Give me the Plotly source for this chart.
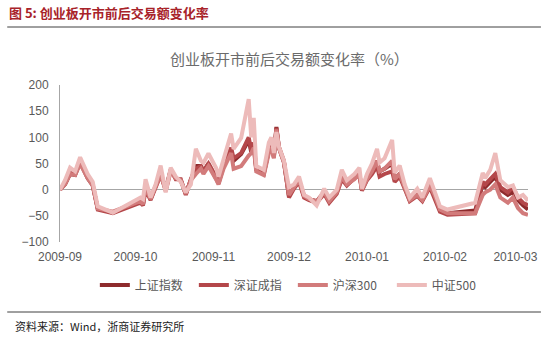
import plotly.graph_objects as go

# Trading-day turnover change rates (%) around the ChiNext launch
dates = [
    "2009-09-01", "2009-09-03", "2009-09-05", "2009-09-07", "2009-09-09",
    "2009-09-12", "2009-09-14", "2009-09-16", "2009-09-22", "2009-10-03",
    "2009-10-04", "2009-10-05", "2009-10-07", "2009-10-09", "2009-10-11",
    "2009-10-13", "2009-10-15", "2009-10-17", "2009-10-19", "2009-10-21",
    "2009-10-23", "2009-10-25", "2009-10-27", "2009-10-28", "2009-10-30",
    "2009-11-02", "2009-11-03", "2009-11-05", "2009-11-08", "2009-11-09",
    "2009-11-12", "2009-11-15", "2009-11-16", "2009-11-17", "2009-11-18",
    "2009-11-21", "2009-11-23", "2009-11-24", "2009-11-25", "2009-11-26",
    "2009-11-27", "2009-11-29", "2009-12-01", "2009-12-03", "2009-12-05",
    "2009-12-07", "2009-12-09", "2009-12-12", "2009-12-15", "2009-12-17",
    "2009-12-20", "2009-12-22", "2009-12-24", "2009-12-27", "2009-12-29",
    "2009-12-30", "2010-01-01", "2010-01-03", "2010-01-05", "2010-01-06",
    "2010-01-08", "2010-01-11", "2010-01-12", "2010-01-14", "2010-01-16",
    "2010-01-18", "2010-01-21", "2010-01-23", "2010-01-26", "2010-01-28",
    "2010-01-30", "2010-02-02", "2010-02-13", "2010-02-16", "2010-02-17",
    "2010-02-19", "2010-02-21", "2010-02-23", "2010-02-26", "2010-02-28",
    "2010-03-02", "2010-03-04", "2010-03-06",
]

sh_composite = [
    0, 10, 30, 28, 52, 22, 8, -36, -44, -22,
    -28, 5, -18, 5, 32, 0, 38, 22, 18, -8,
    20, 45, 45, 35, 50, 22, 12, 45, 75, 55,
    68, 95, 72, 85, 38, 30, 75, 85, 62, 120,
    80, 52, -12, 5, 18, -12, -18, -22, -5, -22,
    -5, 25, 10, 22, 30, 0, 20, 35, 55, 35,
    40, 50, 20, 30, 5, -20, -10, -20, 8, -12,
    -38, -45, -40, 10, 5, 15, 25, 0, -10, -5,
    -20, -30, -38,
]

sz_component = [
    0, 12, 32, 30, 55, 25, 10, -38, -45, -25,
    -30, 0, -20, 3, 28, 0, 38, 20, 20, -10,
    20, 40, 45, 35, 50, 25, 15, 50, 80, 60,
    70, 100, 75, 90, 40, 32, 75, 85, 65, 118,
    82, 55, -15, 2, 15, -15, -20, -25, -8, -25,
    -8, 20, 8, 22, 28, -2, 18, 30, 45, 25,
    30, 35, 15, 25, 0, -22, -12, -22, 5, -18,
    -42, -48, -45, 15, 10, 20, 30, 5, -5, 5,
    -15, -25, -30,
]

hs300 = [
    0, 10, 30, 28, 50, 22, 8, -36, -42, -22,
    -28, 5, -18, 5, 30, -3, 35, 22, 18, -8,
    18, 30, 40, 30, 45, 20, 10, 40, 70, 40,
    45, 65, 70, 80, 35, 28, 70, 80, 60, 115,
    80, 52, -10, 5, 18, -12, -18, -22, -5, -22,
    -5, 25, 10, 20, 30, 0, 20, 35, 55, 35,
    40, 55, 20, 30, 5, -20, -10, -20, 8, -12,
    -38, -45, -45, -10, -5, 0, 10, -15, -25, -15,
    -35, -45, -48,
]

csi500 = [
    0, 18, 42, 35, 62, 30, 15, -32, -44, -15,
    -18, 20, -15, 10, 46, -5, 42, 25, 15, -5,
    10, 78, 55, 51, 69, 42, 25, 60, 107, 78,
    99, 173, 100, 137, 45, 38, 90, 100, 70, 110,
    82, 55, 5, 10, 25, -10, -15, -30, 2, -15,
    0, 38, 18, 30, 42, 2, 30, 50, 78, 52,
    60, 95, 32, 46, 10, -15, 2, -15, 22, -5,
    -32, -38, -25, 32, 22, 38, 70, 18, 5, 8,
    -15, -10, -21,
]

series_names = ["上证指数", "深证成指", "沪深300", "中证500"]
series_values = [sh_composite, sz_component, hs300, csi500]
series_colors = ["#8E2B2D", "#B4474A", "#D27B7B", "#EDBBBA"]

month_ticks = ["2009-09", "2009-10", "2009-11", "2009-12", "2010-01", "2010-02", "2010-03"]

fig = go.Figure()
for name, vals, color in zip(series_names, series_values, series_colors):
    fig.add_trace(go.Scatter(
        x=dates, y=vals, name=name, mode="lines",
        line=dict(color=color, width=4, shape="linear"),
    ))

# plot area in pixels: x 60..530, y 85..242 on a 550x339 canvas
L, R, T, B = 60, 530, 85, 242
W, H = R - L, B - T


def px(x):
    return (x - L) / W


def py(y):
    return (B - y) / H


fig.update_layout(
    width=550, height=339,
    margin=dict(l=L, r=550 - R, t=T, b=339 - B),
    paper_bgcolor="white", plot_bgcolor="white",
    showlegend=True,
    legend=dict(
        orientation="h", x=px(95), y=py(285), xanchor="left", yanchor="middle",
        font=dict(family="Noto Sans CJK SC", size=12, color="#595959"),
        entrywidth=54, entrywidthmode="pixels",
        itemwidth=30, tracegroupgap=0, bgcolor="rgba(0,0,0,0)",
    ),
    xaxis=dict(
        type="date", range=["2009-09-01", "2010-03-06"],
        tickvals=[m + "-01" for m in month_ticks], ticktext=month_ticks,
        showgrid=False, showline=False, zeroline=False, ticks="",
        ticklabelstandoff=6,
        tickfont=dict(family="Liberation Sans, Arial", size=12, color="#595959"),
    ),
    yaxis=dict(
        range=[-100, 200], dtick=50, showgrid=False,
        zeroline=True, zerolinecolor="#A6A6A6", zerolinewidth=1,
        showline=True, linecolor="#A6A6A6", linewidth=1, ticks="",
        ticklabelstandoff=8,
        tickfont=dict(family="Liberation Sans, Arial", size=12, color="#595959"),
    ),
)

annotations = [
    dict(text="<b>图 5: 创业板开市前后交易额变化率</b>", x=px(7), y=py(12),
         xanchor="left", yanchor="middle",
         font=dict(family="Noto Sans CJK SC", size=13, color="#A8232A")),
    dict(text="创业板开市前后交易额变化率（%）", x=px(290), y=py(58),
         xanchor="center", yanchor="middle",
         font=dict(family="Noto Sans CJK SC", size=15, color="#6B6B6B")),
    dict(text="资料来源：Wind，浙商证券研究所", x=px(13), y=py(326),
         xanchor="left", yanchor="middle",
         font=dict(family="Noto Sans CJK SC", size=11, color="#222222")),
]
for a in annotations:
    a.update(xref="paper", yref="paper", showarrow=False)
fig.update_layout(annotations=annotations)

fig.update_layout(shapes=[
    dict(type="line", xref="paper", yref="paper", x0=px(7), x1=px(543),
         y0=py(27), y1=py(27), line=dict(color="#404040", width=1)),
    dict(type="line", xref="paper", yref="paper", x0=px(7), x1=px(543),
         y0=py(312), y1=py(312), line=dict(color="#404040", width=1)),
])

fig.write_html("out.html")
